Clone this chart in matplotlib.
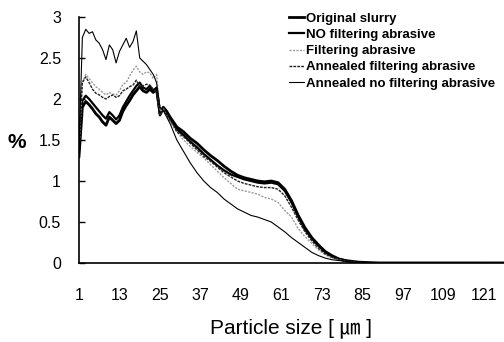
import matplotlib
matplotlib.use("Agg")
import matplotlib.pyplot as plt

plt.rcParams['font.family'] = ['Liberation Sans', 'Noto Sans CJK KR', 'DejaVu Sans']

# particle size categories (µm)
sizes = list(range(1, 31)) + list(range(32, 85, 2)) + [90, 100, 110, 120, 127]

original_slurry = [1.3, 1.9, 1.97, 1.93, 1.88, 1.82, 1.78, 1.72, 1.68, 1.78, 1.74, 1.7, 1.74, 1.85, 1.92,
                   1.98, 2.05, 2.1, 2.15, 2.1, 2.08, 2.12, 2.08, 2.12, 1.82, 1.9, 1.85, 1.78, 1.72, 1.66,
                   1.6, 1.52, 1.46, 1.38, 1.31, 1.25, 1.18, 1.12, 1.07, 1.04, 1.02, 1.0, 0.99, 1.0, 0.98,
                   0.9, 0.76, 0.58, 0.43, 0.31, 0.22, 0.14, 0.09, 0.05, 0.03, 0.02, 0.01,
                   0, 0, 0, 0, 0]
no_filtering = [1.35, 1.98, 2.04, 2.0, 1.95, 1.9, 1.85, 1.8, 1.76, 1.84, 1.8, 1.75, 1.8, 1.9, 1.97,
                2.04, 2.1, 2.16, 2.2, 2.14, 2.12, 2.16, 2.1, 2.14, 1.8, 1.88, 1.82, 1.76, 1.7, 1.63,
                1.56, 1.48, 1.41, 1.33, 1.26, 1.19, 1.13, 1.08, 1.05, 1.02, 1.0, 0.98, 0.97, 0.98, 0.96,
                0.88, 0.74, 0.56, 0.41, 0.3, 0.21, 0.13, 0.08, 0.05, 0.03, 0.01, 0.0,
                0, 0, 0, 0, 0]
filtering = [1.4, 2.2, 2.3, 2.25, 2.2, 2.15, 2.12, 2.08, 2.05, 2.08, 2.06, 2.05, 2.1, 2.18, 2.2,
             2.28, 2.35, 2.4, 2.33, 2.3, 2.33, 2.32, 2.25, 2.3, 1.85, 1.88, 1.8, 1.72, 1.66, 1.6,
             1.5, 1.42, 1.35, 1.28, 1.2, 1.12, 1.04, 0.97, 0.9, 0.88, 0.86, 0.84, 0.8, 0.78, 0.74,
             0.64, 0.56, 0.42, 0.32, 0.24, 0.16, 0.1, 0.06, 0.04, 0.02, 0.01, 0.0,
             0, 0, 0, 0, 0]
annealed_filtering = [1.5, 2.2, 2.27, 2.2, 2.12, 2.07, 2.05, 2.02, 2.0, 2.03, 2.05, 2.02, 2.04, 2.1, 2.12,
                      2.15, 2.17, 2.23, 2.15, 2.16, 2.18, 2.17, 2.12, 2.08, 1.8, 1.86, 1.8, 1.74, 1.68, 1.6,
                      1.54, 1.46, 1.38, 1.3, 1.24, 1.17, 1.1, 1.05, 1.0, 0.97, 0.95, 0.93, 0.92, 0.92, 0.9,
                      0.82, 0.68, 0.52, 0.38, 0.27, 0.18, 0.11, 0.07, 0.04, 0.02, 0.01, 0.0,
                      0, 0, 0, 0, 0]
annealed_no_filtering = [1.4, 2.75, 2.85, 2.8, 2.82, 2.72, 2.68, 2.6, 2.48, 2.66, 2.6, 2.44, 2.58, 2.66, 2.74,
                         2.63, 2.7, 2.83, 2.5, 2.46, 2.42, 2.36, 2.3, 2.2, 1.9, 1.86, 1.78, 1.7, 1.6, 1.5,
                         1.36, 1.22, 1.1, 1.0, 0.92, 0.86, 0.78, 0.72, 0.66, 0.62, 0.58, 0.56, 0.53, 0.5, 0.44,
                         0.38, 0.31, 0.25, 0.19, 0.13, 0.09, 0.06, 0.04, 0.03, 0.02, 0.01, 0.0,
                         0, 0, 0, 0, 0]

xticks = [1, 13, 25, 37, 49, 61, 73, 85, 97, 109, 121]
yticks = [0, 0.5, 1, 1.5, 2, 2.5, 3]
ytick_labels = ["0", "0.5", "1", "1.5", "2", "2.5", "3"]

fig = plt.figure(figsize=(5.04, 3.42), dpi=100)
ax = fig.add_axes([79 / 504, 79 / 342, 1 - 79 / 504, 246 / 342])

ax.plot(sizes, original_slurry, color='black', lw=2.0, label='Original slurry')
ax.plot(sizes, no_filtering, color='black', lw=1.6, label='NO filtering abrasive')
ax.plot(sizes, filtering, color='#9a9a9a', lw=1.0, ls=(0, (1.5, 1)), label='Filtering abrasive')
ax.plot(sizes, annealed_filtering, color='#222222', lw=1.0, ls=(0, (2, 0.8)), label='Annealed filtering abrasive')
ax.plot(sizes, annealed_no_filtering, color='black', lw=0.8, label='Annealed no filtering abrasive')

ax.set_xlim(1, 127)
ax.set_ylim(0, 3)
ax.set_xticks(xticks)
ax.set_xticklabels([str(t) for t in xticks])
ax.set_yticks(yticks)
ax.set_yticklabels(ytick_labels)
ax.tick_params(axis='x', length=0, pad=18, labelsize=11.5)
ax.tick_params(axis='y', direction='in', length=4, width=1, pad=13, labelsize=11.5)
for s in ['top', 'right']:
    ax.spines[s].set_visible(False)
for s in ['left', 'bottom']:
    ax.spines[s].set_linewidth(1.2)

ax.set_xlabel('Particle size [ \u339b ]', fontsize=15, labelpad=11)
fig.text(8 / 504, 1 - 142 / 342, '%', fontsize=15, fontweight='bold', va='center', ha='left')

leg = ax.legend(loc='upper left', bbox_to_anchor=(282 / 504, 1 - 6 / 342),
                bbox_transform=fig.transFigure, frameon=False, fontsize=9.5,
                handlelength=1.15, handletextpad=0.2, labelspacing=0.3, borderpad=0)
for t in leg.get_texts():
    t.set_fontweight('bold')

fig.savefig('out.png', dpi=100)
